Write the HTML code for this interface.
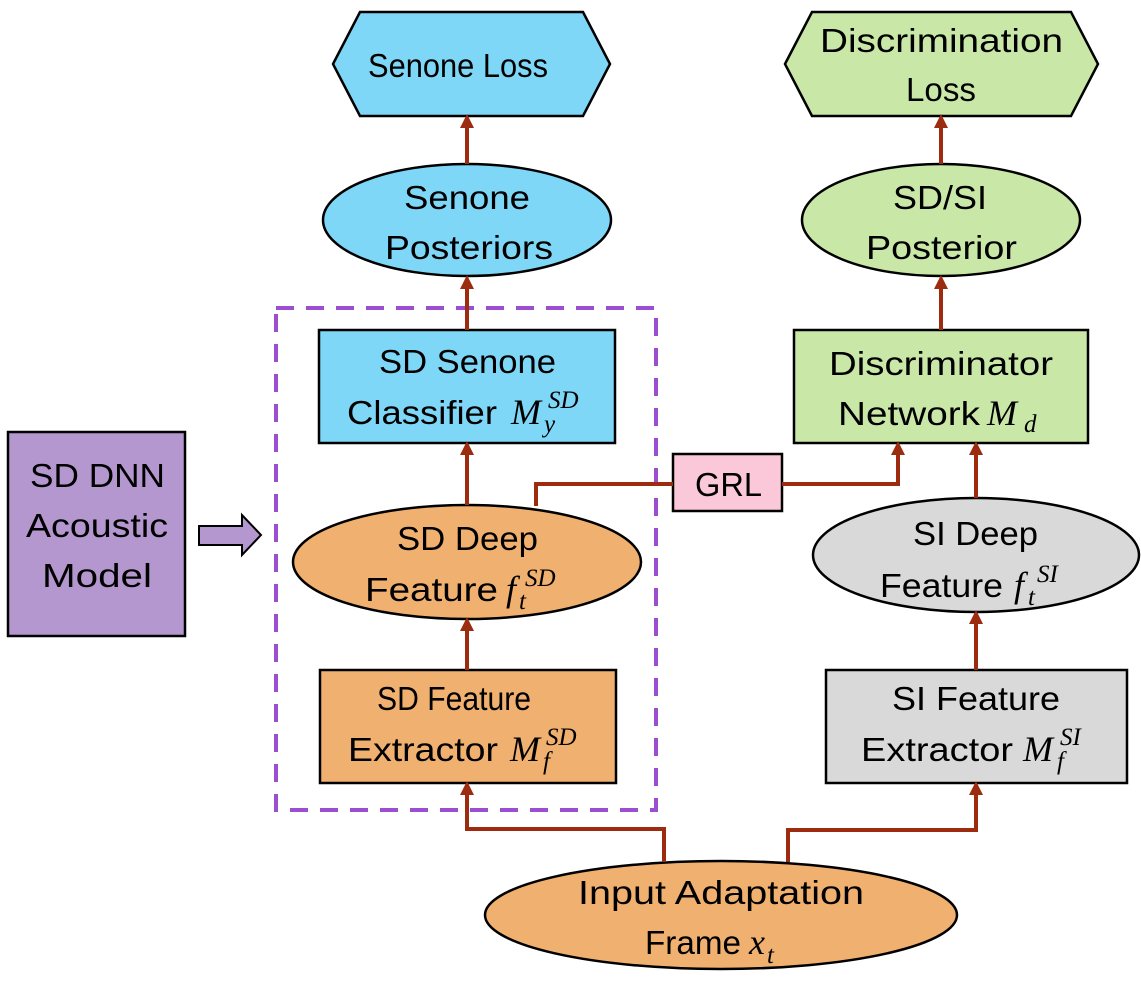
<!DOCTYPE html>
<html><head><meta charset="utf-8"><style>
html,body{margin:0;padding:0;background:#fff;}
svg{display:block;}
text{font-family:"Liberation Sans",sans-serif;font-size:33px;fill:#000;}
.m{font-family:"Liberation Serif",serif;font-style:italic;font-size:36px;}
.s{font-family:"Liberation Serif",serif;font-style:italic;font-size:25px;}
</style></head><body>
<svg width="1141" height="993" viewBox="0 0 1141 993" xmlns="http://www.w3.org/2000/svg">
<g stroke="#000" stroke-width="2.5">
<polygon points="333,64 360,12 583,12 610,64 583,116 360,116" fill="#7fd7f7"/>
<polygon points="785,64 812,12 1071,12 1098,64 1071,116 812,116" fill="#c9e7a7"/>
<ellipse cx="467" cy="220" rx="144" ry="56" fill="#7fd7f7"/>
<ellipse cx="941" cy="220" rx="139" ry="56" fill="#c9e7a7"/>
<rect x="319" y="330" width="296" height="113" fill="#7fd7f7"/>
<rect x="794" y="330" width="294" height="113" fill="#c9e7a7"/>
<ellipse cx="467" cy="562" rx="174" ry="57" fill="#f0b070"/>
<ellipse cx="976" cy="555" rx="163" ry="57" fill="#d9d9d9"/>
<rect x="673" y="454" width="109" height="57" fill="#fac8d8"/>
<rect x="320" y="670" width="296" height="113" fill="#f0b070"/>
<rect x="826" y="670" width="301" height="113" fill="#d9d9d9"/>
<ellipse cx="721" cy="915" rx="236" ry="54" fill="#f0b070"/>
<rect x="8" y="432" width="177" height="204" fill="#b497cf"/>
<polygon points="199,526 242,526 242,515 261,535 242,555 242,545 199,545" fill="#b497cf" stroke-width="2"/>
</g>
<rect x="276" y="308" width="380" height="502" fill="none" stroke="#9b4fd0" stroke-width="4" stroke-dasharray="18,12"/>
<g stroke="#9c2b10" stroke-width="4" fill="none">
<line x1="467" y1="164" x2="467" y2="126"/>
<line x1="941" y1="164" x2="941" y2="126"/>
<line x1="467" y1="330" x2="467" y2="287"/>
<line x1="941" y1="330" x2="941" y2="287"/>
<line x1="467" y1="505" x2="467" y2="453"/>
<line x1="467" y1="670" x2="467" y2="629"/>
<line x1="976" y1="498" x2="976" y2="453"/>
<line x1="976" y1="670" x2="976" y2="622"/>
<polyline points="536,506 536,484 673,484"/>
<polyline points="782,484 898,484 898,453"/>
<polyline points="664,862 664,829 467,829 467,793"/>
<polyline points="788,862 788,830 976,830 976,793"/>
</g>
<g fill="#9c2b10">
<polygon points="460,128 474,128 467,114"/>
<polygon points="934,128 948,128 941,114"/>
<polygon points="460,289 474,289 467,275"/>
<polygon points="934,289 948,289 941,275"/>
<polygon points="460,455 474,455 467,441"/>
<polygon points="460,631 474,631 467,617"/>
<polygon points="969,455 983,455 976,441"/>
<polygon points="891,455 905,455 898,441"/>
<polygon points="969,624 983,624 976,610"/>
<polygon points="460,795 474,795 467,781"/>
<polygon points="969,795 983,795 976,781"/>
</g>
<text x="368" y="77" textLength="180" lengthAdjust="spacingAndGlyphs">Senone Loss</text>
<text x="820" y="52" textLength="243" lengthAdjust="spacingAndGlyphs">Discrimination</text>
<text x="906" y="101" textLength="70" lengthAdjust="spacingAndGlyphs">Loss</text>
<text x="404" y="209" textLength="126" lengthAdjust="spacingAndGlyphs">Senone</text>
<text x="385" y="259" textLength="168" lengthAdjust="spacingAndGlyphs">Posteriors</text>
<text x="893" y="209" textLength="94" lengthAdjust="spacingAndGlyphs">SD/SI</text>
<text x="866" y="259" textLength="151" lengthAdjust="spacingAndGlyphs">Posterior</text>

<text x="379" y="373" textLength="177" lengthAdjust="spacingAndGlyphs">SD Senone</text>
<text x="347" y="424" textLength="150" lengthAdjust="spacingAndGlyphs">Classifier</text>
<text class="m" x="511" y="424">M</text>
<text class="s" x="548" y="408">SD</text>
<text class="s" x="544" y="432">y</text>

<text x="829" y="375" textLength="224" lengthAdjust="spacingAndGlyphs">Discriminator</text>
<text x="838" y="425" textLength="142" lengthAdjust="spacingAndGlyphs">Network</text>
<text class="m" x="987" y="425">M</text>
<text class="s" x="1024" y="432">d</text>

<text x="695" y="496" textLength="67" lengthAdjust="spacingAndGlyphs">GRL</text>

<text x="397" y="550" textLength="141" lengthAdjust="spacingAndGlyphs">SD Deep</text>
<text x="365" y="601" textLength="133" lengthAdjust="spacingAndGlyphs">Feature</text>
<text class="m" x="506" y="601">f</text>
<text class="s" x="525" y="586">SD</text>
<text class="s" x="519" y="609">t</text>

<text x="913" y="545" textLength="125" lengthAdjust="spacingAndGlyphs">SI Deep</text>
<text x="880" y="597" textLength="123" lengthAdjust="spacingAndGlyphs">Feature</text>
<text class="m" x="1014" y="597">f</text>
<text class="s" x="1037" y="582">SI</text>
<text class="s" x="1028" y="605">t</text>

<text x="377" y="710" textLength="154" lengthAdjust="spacingAndGlyphs">SD Feature</text>
<text x="348" y="761" textLength="150" lengthAdjust="spacingAndGlyphs">Extractor</text>
<text class="m" x="510" y="761">M</text>
<text class="s" x="546" y="745">SD</text>
<text class="s" x="543" y="769">f</text>

<text x="892" y="710" textLength="168" lengthAdjust="spacingAndGlyphs">SI Feature</text>
<text x="861" y="761" textLength="152" lengthAdjust="spacingAndGlyphs">Extractor</text>
<text class="m" x="1023" y="761">M</text>
<text class="s" x="1060" y="745">SI</text>
<text class="s" x="1057" y="769">f</text>

<text x="578" y="904" textLength="286" lengthAdjust="spacingAndGlyphs">Input Adaptation</text>
<text x="645" y="954" textLength="96" lengthAdjust="spacingAndGlyphs">Frame</text>
<text class="m" x="749" y="954">x</text>
<text class="s" x="767" y="963">t</text>

<text x="30" y="487" textLength="135" lengthAdjust="spacingAndGlyphs">SD DNN</text>
<text x="26" y="537" textLength="142" lengthAdjust="spacingAndGlyphs">Acoustic</text>
<text x="42" y="587" textLength="110" lengthAdjust="spacingAndGlyphs">Model</text>
</svg>
</body></html>
